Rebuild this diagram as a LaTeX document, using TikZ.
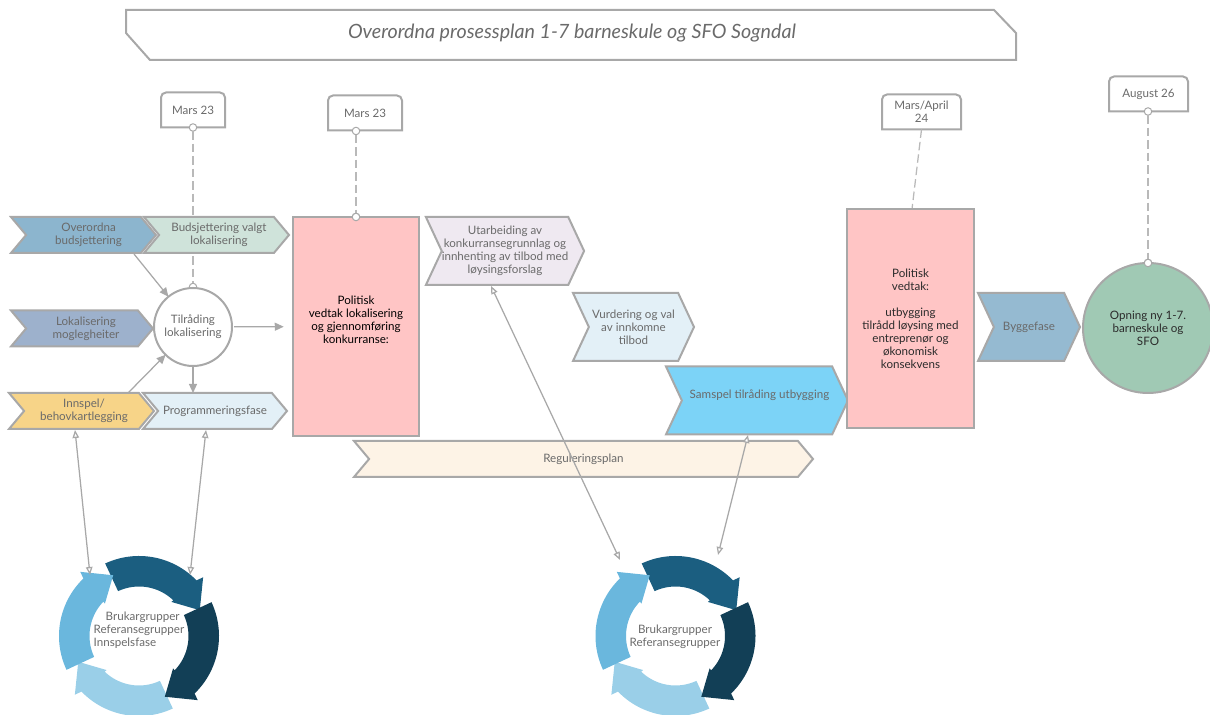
\documentclass[tikz,border=0pt]{standalone}
\usepackage{fontspec}
\setmainfont{Lato}
\usetikzlibrary{shapes.symbols,arrows.meta}
\definecolor{linegray}{HTML}{A8A8A8}
\definecolor{textgray}{HTML}{6A6A6A}
\definecolor{textdark}{HTML}{2B2B2B}
\definecolor{vedtak}{HTML}{FFC5C5}
\definecolor{budsjcol}{HTML}{8CB5CE}
\definecolor{valgtcol}{HTML}{CFE3DA}
\definecolor{lokcol}{HTML}{9DB1CC}
\definecolor{inncol}{HTML}{F7D488}
\definecolor{lightcol}{HTML}{E3F0F7}
\definecolor{utarbcol}{HTML}{EFE9F1}
\definecolor{samcol}{HTML}{7CD3F7}
\definecolor{regcol}{HTML}{FDF3E6}
\definecolor{byggcol}{HTML}{95BAD1}
\definecolor{opncol}{HTML}{A0C9B4}
\definecolor{cycone}{HTML}{1B5E80}
\definecolor{cyctwo}{HTML}{123F56}
\definecolor{cycthree}{HTML}{9ACFE8}
\definecolor{cycfour}{HTML}{6AB7DD}

\begin{document}
\begin{tikzpicture}[
    every node/.style={font=\fontsize{6.6}{7.4}\selectfont, text=textgray, align=center, inner sep=0pt, outer sep=0pt},
    outline/.style={draw=linegray, line width=0.04cm},
    chev/.style={outline, signal, signal to=east, signal from=west, minimum height=0.72cm, signal pointer angle=100},
    chevtall/.style={chev, minimum height=1.36cm, signal pointer angle=130},
    pinkbox/.style={outline, rectangle, fill=vedtak, text=textdark, minimum width=2.53cm, minimum height=4.38cm},
    datebox/.style={rectangle, fill=white, minimum height=0.7cm},
    pin/.style={circle, draw=linegray, fill=white, line width=0.02cm, minimum size=0.15cm},
    pinline/.style={draw=linegray!80, line width=0.025cm, dash pattern=on 0.17cm off 0.08cm},
    arrow/.style={-{Triangle[length=0.18cm,width=0.16cm]}, draw=linegray, line width=0.025cm},
    link/.style={{Triangle[open,length=0.16cm,width=0.13cm,fill=white]}-{Triangle[open,length=0.16cm,width=0.13cm,fill=white]}, draw=linegray, line width=0.025cm},
]
\useasboundingbox (0,0) rectangle (24.2,14.3);
\clip (0,0) rectangle (24.2,14.3);

% Title
\draw[outline] (2.52,14.1) -- (19.88,14.1) -- (20.32,13.64) -- (20.32,13.1) -- (3,13.1) -- (2.52,13.64) -- cycle;
\node (title) at (11.44,13.64) {\fontsize{11.2}{13}\selectfont\itshape Overordna prosessplan 1-7 barneskule og SFO Sogndal};

% Dates
\node[datebox, minimum width=1.28cm] (m1) at (3.86,12.1) {Mars 23};
\node[datebox, minimum width=1.48cm] (m2) at (7.3,12.04) {Mars 23};
\node[datebox, minimum width=1.58cm] (m3) at (18.43,12.06) {Mars/April\\24};
\node[datebox, minimum width=1.58cm] (m4) at (22.97,12.42) {August 26};
\foreach \n in {m1,m2,m3,m4}
    \draw[outline] (\n.south west) [rounded corners=0.1cm] -- (\n.north west) -- (\n.north east) [sharp corners] -- (\n.south east) -- cycle;

% Pins and their dashed lines
\node[pin] (p1a) at (m1.south) {};
\node[pin] (p1b) at (3.86,8.56) {};
\node[pin] (p2a) at (7.12,11.68) {};
\node[pin] (p2b) at (7.12,9.96) {};
\node[pin] (p4a) at (22.96,12.07) {};
\node[pin] (p4b) at (22.96,9.04) {};
\coordinate (p3b) at (18.24,10.12);
\draw[pinline] (p1a) -- (p1b);
\draw[pinline] (p2a) -- (p2b);
\draw[pinline] (m3.south) -- (p3b);
\draw[pinline] (p4a) -- (p4b);

% Left side: Localisation
\node[chev, fill=budsjcol, minimum width=2.9cm] (budsj) at (1.67,9.6) {\hspace*{0.2cm}Overordna\\\hspace*{0.2cm}budsjettering};
\node[chev, fill=valgtcol, minimum width=2.9cm] (valgt) at (4.33,9.6) {\hspace*{0.1cm}Budsjettering valgt\\\hspace*{0.1cm}lokalisering};
\node[chev, fill=lokcol, minimum width=2.84cm] (lok) at (1.64,7.73) {\hspace*{0.16cm}Lokalisering\\\hspace*{0.16cm}moglegheiter};
\node[chev, fill=inncol, minimum width=2.9cm] (innspel) at (1.63,6.08) {\hspace*{0.1cm}Innspel/\\\hspace*{0.1cm}behovkartlegging};
\node[chev, fill=lightcol, minimum width=2.88cm] (prog) at (4.3,6.08) {Programmeringsfase};
\node[circle, outline, fill=white, minimum size=1.56cm] (tilr) at (3.86,7.76) {Tilråding\\lokalisering};

\node[pinkbox, text=black] (ved1) at (7.12,7.77) {Politisk\\vedtak lokalisering\\og gjennomføring\\konkurranse:\\\mbox{}};

\coordinate (budsjout) at (2.68,9.22);
\coordinate (innout) at (2.56,6.44);
\draw[arrow] (budsjout) -- (tilr);
\draw[arrow] (innout) -- (tilr);
\draw[arrow] (tilr) -- (tilr |- prog.north);
\draw[arrow, shorten <=0.04cm, shorten >=0.18cm] (tilr) -- (ved1);

% Middle: Competition
\node[chevtall, fill=utarbcol, minimum width=3.16cm] (utarb) at (10.1,9.28) {Utarbeiding av\\konkurransegrunnlag og\\innhenting av tilbod med\\løysingsforslag};
\node[chevtall, fill=lightcol, minimum width=2.42cm] (vurd) at (12.67,7.76) {Vurdering og val\\av innkomne\\tilbod};
\node[chevtall, fill=samcol, minimum width=3.64cm] (samspel) at (15.14,6.29) {\hspace*{0.1cm}Samspel tilråding utbygging\\\mbox{}};
\node[chev, fill=regcol, minimum width=9.18cm] (regul) at (11.67,5.12) {Reguleringsplan};

% Right side: Construction
\node[pinkbox] (ved2) at (18.21,7.93) {Politisk\\vedtak:\\\mbox{}\\utbygging\\tilrådd løysing med\\entreprenør og\\økonomisk\\konsekvens};
\node[chevtall, fill=byggcol, minimum width=2.04cm] (bygg) at (20.58,7.76) {Byggefase};
\node[circle, outline, fill=opncol, text=textdark, minimum size=2.6cm] (opning) at (22.96,7.74) {Opning ny 1-7.\\barneskule og\\SFO};
\node[pin] at (p2b) {};
\node[pin] at (p4b) {};

% Cycles
\foreach \cyc in {(2.78,1.58),(13.51,1.58)}
    \foreach \rot/\shade in {0/cycone,-180/cycthree,-90/cyctwo,-270/cycfour}
        \fill[\shade, shift={\cyc}, rotate=\rot] (115:1.6) arc[start angle=115, end angle=44, radius=1.6] -- (42.5:1.74) -- (23:1.32) -- (46.5:0.94) -- (46:0.99) arc[start angle=46, end angle=115, radius=0.99] -- cycle;
\node[align=left] (cyc1) at (2.78,1.7) {\hspace*{0.24cm}Brukargrupper\\Referansegrupper\\Innspelsfase};
\node (cyc2) at (13.5,1.56) {Brukargrupper\\Referansegrupper};

% Links to user groups
\coordinate (innin) at (1.5,5.7);
\coordinate (progin) at (4.12,5.7);
\coordinate (utarbin) at (9.82,8.58);
\coordinate (samin) at (14.96,5.6);
\coordinate (cyc1a) at (1.8,2.8);
\coordinate (cyc1b) at (3.8,2.8);
\coordinate (cyc2a) at (12.4,3.1);
\coordinate (cyc2b) at (14.36,3.2);
\draw[link] (innin) -- (cyc1a);
\draw[link] (progin) -- (cyc1b);
\draw[link] (utarbin) -- (cyc2a);
\draw[link] (samin) -- (cyc2b);

\end{tikzpicture}
\end{document}
